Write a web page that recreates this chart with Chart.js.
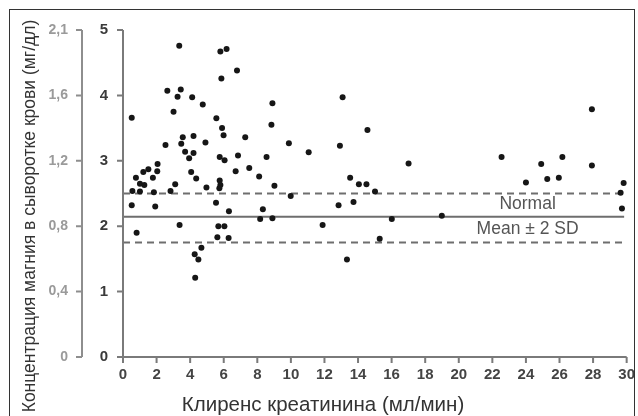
<!DOCTYPE html>
<html>
<head>
<meta charset="utf-8">
<script src="https://cdn.jsdelivr.net/npm/chart.js@4.4.1/dist/chart.umd.min.js"></script>
<style>
html, body { margin: 0; padding: 0; background: #fff; }
#wrap { position: relative; width: 638px; height: 416px; overflow: hidden; }
#wrap canvas { position: absolute; left: 0; top: 0; }
#frame { position: absolute; left: 9px; top: 9px; width: 624px; height: 430px; border: 1.5px solid #333; pointer-events: none; }
</style>
</head>
<body>
<div id="wrap">
	<canvas id="chart" width="638" height="416"></canvas>
	<div id="frame"></div>
</div>
<script>
// клиренс креатинина (мл/мин)
const clearance = [
	0.52, 3.20, 3.35, 2.64, 3.25, 3.44, 3.01, 4.12, 4.75, 6.88,
	5.80, 6.17, 6.79, 5.86, 8.90, 8.84, 5.56, 5.90, 5.99, 7.28,
	9.88, 3.56, 3.47, 4.20, 2.53, 4.91, 3.70, 4.20, 3.94, 5.76,
	6.05, 6.85, 8.55, 7.52, 8.11, 6.71, 4.06, 4.36, 0.77, 1.21,
	1.51, 2.06, 2.04, 1.78, 1.01, 1.27, 3.11, 4.97, 5.76, 5.80,
	5.74, 9.02, 0.56, 1.01, 1.84, 2.83, 9.99, 0.52, 0.81, 1.92,
	3.37, 4.27, 4.49, 4.30, 4.67, 5.54, 5.62, 5.68, 6.04, 6.31,
	6.29, 8.33, 8.17, 8.90, 11.06, 13.08, 12.92, 14.56, 13.53, 14.05,
	14.50, 15.01, 17.01, 12.84, 13.73, 11.89, 16.01, 18.99, 15.29, 13.34,
	22.55, 27.93, 24.00, 24.91, 25.27, 25.96, 26.17, 27.93, 29.82, 29.64,
	29.72
];
// магний сыворотки (по внутренней шкале)
const magnesium = [
	3.66, 5.12, 4.76, 4.07, 3.98, 4.09, 3.75, 3.97, 3.86, 5.10,
	4.67, 4.71, 4.38, 4.26, 3.88, 3.55, 3.65, 3.50, 3.39, 3.36,
	3.27, 3.36, 3.26, 3.38, 3.24, 3.28, 3.14, 3.12, 3.04, 3.06,
	3.01, 3.08, 3.06, 2.89, 2.76, 2.84, 2.83, 2.73, 2.74, 2.83,
	2.87, 2.95, 2.84, 2.74, 2.65, 2.63, 2.64, 2.59, 2.70, 2.63,
	2.58, 2.62, 2.54, 2.53, 2.52, 2.54, 2.46, 2.32, 1.90, 2.30,
	2.02, 1.57, 1.49, 1.21, 1.67, 2.36, 1.83, 2.00, 2.00, 2.23,
	1.82, 2.26, 2.11, 2.12, 3.13, 3.97, 3.23, 3.47, 2.74, 2.64,
	2.64, 2.53, 2.96, 2.32, 2.37, 2.02, 2.11, 2.16, 1.81, 1.49,
	3.06, 3.79, 2.67, 2.95, 2.72, 2.74, 3.06, 2.93, 2.66, 2.51,
	2.27
];

const xTicks = [0, 2, 4, 6, 8, 10, 12, 14, 16, 18, 20, 22, 24, 26, 28, 30];
const yTicks = [0, 1, 2, 3, 4, 5];
const yOuterLabels = ['0', '0,4', '0,8', '1,2', '1,6', '2,1'];

const meanLevel = 2.145;
const upperLevel = 2.5;
const lowerLevel = 1.75;
const lineEnd = 29.85;

const font = '"Liberation Sans", Arial, Helvetica, sans-serif';

// оси и засечки рисуем сами, по шкалам Chart.js
const axes = {
	id: 'axes',
	afterDraw(chart) {
		const ctx = chart.ctx;
		const {x, y, y2} = chart.scales;
		const x0 = x.getPixelForValue(0), x1 = x.getPixelForValue(30);
		const yb = y.getPixelForValue(0), yt = y.getPixelForValue(5);
		ctx.save();
		ctx.lineWidth = 2;
		ctx.strokeStyle = '#7a7a7a';
		ctx.beginPath();
		ctx.moveTo(x0, yt); ctx.lineTo(x0, yb + 1);
		ctx.stroke();
		ctx.beginPath();
		ctx.moveTo(x0 - 1, yb); ctx.lineTo(x1, yb);
		xTicks.forEach(v => {
			const px = x.getPixelForValue(v);
			ctx.moveTo(px, yb); ctx.lineTo(px, yb + 6);
		});
		yTicks.forEach(v => {
			const py = y.getPixelForValue(v);
			ctx.moveTo(x0, py); ctx.lineTo(x0 - 6, py);
		});
		ctx.stroke();

		ctx.strokeStyle = '#8e8e8e';
		ctx.beginPath();
		const xr = y2.right;
		ctx.moveTo(xr, y2.getPixelForValue(5)); ctx.lineTo(xr, y2.getPixelForValue(0));
		yTicks.forEach(v => {
			const py = y2.getPixelForValue(v);
			ctx.moveTo(xr, py); ctx.lineTo(xr - 6, py);
		});
		ctx.stroke();
		ctx.restore();
	}
};

const texts = {
	id: 'texts',
	afterDatasetsDraw(chart) {
		const ctx = chart.ctx;
		const x = chart.scales.x, y = chart.scales.y;
		ctx.save();
		ctx.textAlign = 'center';
		ctx.textBaseline = 'middle';
		ctx.fillStyle = '#555';
		ctx.font = '17.5px ' + font;
		ctx.fillText('Normal', x.getPixelForValue(24.1), y.getPixelForValue(2.33));
		ctx.fillText('Mean ± 2 SD', x.getPixelForValue(24.1), y.getPixelForValue(1.95));

		ctx.fillStyle = '#333';
		ctx.font = '20.5px ' + font;
		ctx.fillText('Клиренс креатинина (мл/мин)', 323, 405);

		ctx.translate(30, 216);
		ctx.rotate(-Math.PI / 2);
		ctx.font = '17.5px ' + font;
		ctx.fillText('Концентрация магния в сыворотке крови (мг/дл)', 0, 0);
		ctx.restore();
	}
};

function refLine(level, dash) {
	return {
		type: 'line',
		data: [{x: 0, y: level}, {x: lineEnd, y: level}],
		borderColor: '#6e6e6e',
		borderWidth: 2,
		borderDash: dash,
		pointRadius: 0,
		fill: false,
		yAxisID: 'y'
	};
}

const hidden = { drawOnChartArea: false, tickLength: 6, color: 'rgba(0,0,0,0)' };

new Chart(document.getElementById('chart').getContext('2d'), {
	type: 'scatter',
	data: {
		datasets: [
			{
				label: 'Mg',
				data: clearance.map((c, i) => ({x: c, y: magnesium[i]})),
				backgroundColor: '#161616',
				borderWidth: 0,
				pointRadius: 3,
				clip: false,
				yAxisID: 'y'
			},
			refLine(meanLevel, []),
			refLine(upperLevel, [7, 5]),
			refLine(lowerLevel, [7, 5])
		]
	},
	options: {
		responsive: false,
		animation: false,
		layout: { padding: { left: 0, top: 30, right: 11, bottom: 29 } },
		plugins: {
			legend: { display: false },
			tooltip: { enabled: false }
		},
		scales: {
			x: {
				type: 'linear',
				position: 'bottom',
				min: 0,
				max: 30,
				afterBuildTicks: s => { s.ticks = xTicks.map(v => ({value: v})); },
				afterFit: s => { s.height = 30; },
				grid: hidden,
				border: { display: false },
				ticks: { padding: 3, color: '#444', autoSkip: false, maxRotation: 0, font: { size: 15, weight: 'bold', family: font } }
			},
			y: {
				type: 'linear',
				position: 'left',
				weight: 0,
				min: 0,
				max: 5,
				afterBuildTicks: s => { s.ticks = yTicks.map(v => ({value: v})); },
				afterFit: s => { s.width = 41; },
				grid: hidden,
				border: { display: false },
				ticks: { padding: 9, color: '#3a3a3a', font: { size: 15, weight: 'bold', family: font } }
			},
			y2: {
				type: 'linear',
				position: 'left',
				weight: 1,
				min: 0,
				max: 5,
				afterBuildTicks: s => { s.ticks = yTicks.map(v => ({value: v})); },
				afterFit: s => { s.width = 82; },
				grid: hidden,
				border: { display: false },
				ticks: {
					padding: 8,
					color: '#9a9a9a',
					font: { size: 14, weight: 'bold', family: font },
					callback: (v, i) => yOuterLabels[i]
				}
			}
		}
	},
	plugins: [axes, texts]
});
</script>
</body>
</html>
